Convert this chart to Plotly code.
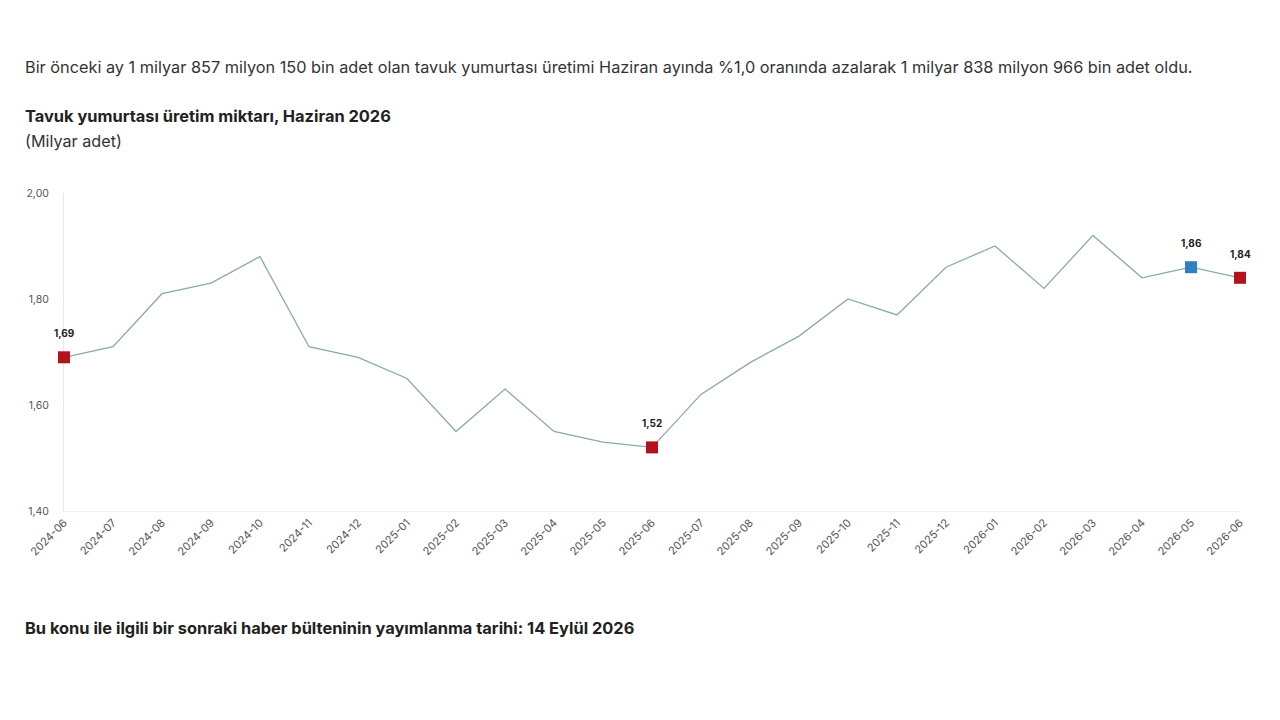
import plotly.graph_objects as go

months = ["2024-06", "2024-07", "2024-08", "2024-09", "2024-10", "2024-11", "2024-12",
          "2025-01", "2025-02", "2025-03", "2025-04", "2025-05", "2025-06", "2025-07",
          "2025-08", "2025-09", "2025-10", "2025-11", "2025-12", "2026-01", "2026-02",
          "2026-03", "2026-04", "2026-05", "2026-06"]
production = [1.69, 1.71, 1.81, 1.83, 1.88, 1.71, 1.69, 1.65, 1.55, 1.63, 1.55, 1.53,
              1.52, 1.62, 1.68, 1.73, 1.80, 1.77, 1.86, 1.90, 1.82, 1.92, 1.84, 1.86, 1.84]
highlight_months = ["2024-06", "2025-06", "2026-05", "2026-06"]
highlight_colors = ["#b5121b", "#b5121b", "#2f80c0", "#b5121b"]
y_ticks = [1.40, 1.60, 1.80, 2.00]

intro_text = ("Bir önceki ay 1 milyar 857 milyon 150 bin adet olan tavuk yumurtası üretimi "
              "Haziran ayında %1,0 oranında azalarak 1 milyar 838 milyon 966 bin adet oldu.")
chart_title = "Tavuk yumurtası üretim miktarı, Haziran 2026"
chart_unit = "(Milyar adet)"
footer_text = "Bu konu ile ilgili bir sonraki haber bülteninin yayımlanma tarihi: 14 Eylül 2026"

FONT = "Inter, Roboto, sans-serif"

hl_values = [production[months.index(m)] for m in highlight_months]

fig = go.Figure()
fig.add_trace(go.Scatter(
    x=months, y=production, mode="lines",
    line=dict(color="#8aa8b0", width=1.3),
    hoverinfo="x+y", showlegend=False, cliponaxis=False,
))
fig.add_trace(go.Scatter(
    x=highlight_months, y=hl_values, mode="markers",
    marker=dict(symbol="square", size=12, color=highlight_colors,
                line=dict(width=0)),
    showlegend=False, cliponaxis=False,
))

for m, v in zip(highlight_months, hl_values):
    fig.add_annotation(
        x=m, y=v, text=f"<b>{v:.2f}</b>".replace(".", ","), showarrow=False,
        yshift=24, font=dict(family=FONT, size=10, color="#222222"),
    )

W, H = 1280, 720
OFF = 8  # page offset
pw, ph = 1176, 318
L, T = 64 - OFF, 193 - OFF
R, B = W - L - pw, H - T - ph

def px(x):
    return (x - OFF - L) / pw

def py(y):
    return (H - B - (y - OFF)) / ph

texts = [
    (intro_text, 23, 67, 16.3, "#333333"),
    (f"<b>{chart_title}</b>", 23, 116, 16.4, "#222222"),
    (chart_unit, 23, 141, 16.2, "#333333"),
    (f"<b>{footer_text}</b>", 23, 628, 16.4, "#222222"),
]
for t, x, y, s, c in texts:
    fig.add_annotation(
        xref="paper", yref="paper", x=px(x), y=py(y), text=t, showarrow=False,
        xanchor="left", yanchor="middle", font=dict(family=FONT, size=s, color=c),
    )

fig.update_layout(
    width=W, height=H,
    margin=dict(l=L, r=R, t=T, b=B),
    paper_bgcolor="white", plot_bgcolor="white",
    separators=",.",
    font=dict(family=FONT, color="#555555"),
    xaxis=dict(
        type="category", range=[0, len(months) - 1],
        showgrid=False, zeroline=False,
        showline=True, linecolor="#f0f0f0", linewidth=1, layer="below traces",
        tickangle=-45, tickfont=dict(size=11, color="#555555"),
        ticks="", fixedrange=True,
    ),
    yaxis=dict(
        range=[1.4, 2.0], tickvals=y_ticks, tickformat=".2f",
        showgrid=False, zeroline=False,
        showline=True, linecolor="#e8e8e8", linewidth=1, layer="below traces",
        tickfont=dict(size=10.5, color="#555555"),
        ticks="", ticklabelstandoff=12,
    ),
)

fig.write_html("out.html")
